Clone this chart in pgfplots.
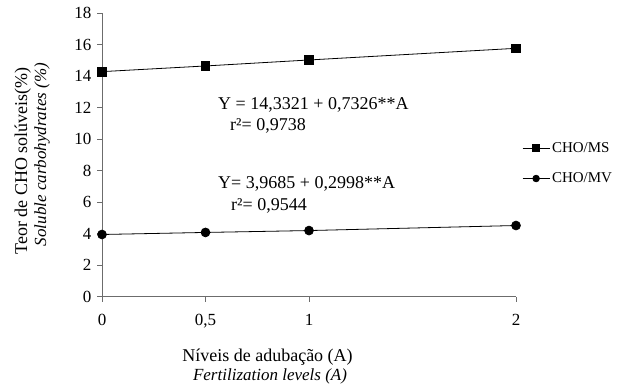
\documentclass[border=0pt]{standalone}
\usepackage{fontspec}
\setmainfont{Liberation Serif}
\usepackage{pgfplots}
\pgfplotsset{compat=1.18}
\begin{document}
\begin{tikzpicture}[x=1bp,y=1bp]
\path[use as bounding box] (0,0) rectangle (617,384);
\begin{axis}[
  at={(102bp,87.3bp)}, anchor=south west,
  scale only axis, width=414bp, height=283.5bp,
  xmin=0, xmax=2, ymin=0, ymax=18,
  axis x line*=bottom, axis y line*=left,
  xtick={0,0.5,1,2}, xticklabels={0,{0,5},1,2},
  ytick={0,2,4,6,8,10,12,14,16,18},
  tick align=outside, major tick length=5bp,
  every tick/.style={gray!85!black, line width=0.8bp},
  axis line style={gray!85!black, line width=0.8bp},
  /pgf/number format/assume math mode=true,
  tick label style={font=\fontsize{17bp}{20bp}\selectfont},
  yticklabel style={xshift=-2bp},
  xticklabel style={yshift=-9bp},
  clip=false,
  legend style={draw=none, fill=none, at={(1.0145,0.4705)}, anchor=west,
    font=\fontsize{15bp}{18bp}\selectfont, inner sep=0pt, row sep=15bp,
    cells={anchor=west}},
  legend image code/.code={
    \draw[mark repeat=2, mark phase=2, mark size=3.3bp]
      plot coordinates {(0bp,0bp) (13.5bp,0bp) (27bp,0bp)};
  },
]
\addplot[black, line width=0.8bp, mark=square*, mark size=4.3bp,
  mark options={solid}] coordinates {(0,14.29) (0.5,14.65) (1,15.03) (2,15.77)};
\addlegendentry{CHO/MS}
\addplot[black, line width=0.8bp, mark=*, mark size=4.4bp,
  mark options={solid}] coordinates {(0,3.95) (0.5,4.08) (1,4.2) (2,4.52)};
\addlegendentry{CHO/MV}
\end{axis}
\begin{scope}[every node/.style={inner sep=0pt}]
\node[anchor=base west, font=\fontsize{18bp}{20bp}\selectfont] at (218,275) {Y = 14,3321 + 0,7326**A};
\node[anchor=base west, font=\fontsize{18bp}{20bp}\selectfont] at (230,254) {r²= 0,9738};
\node[anchor=base west, font=\fontsize{18bp}{20bp}\selectfont] at (218,196) {Y= 3,9685 + 0,2998**A};
\node[anchor=base west, font=\fontsize{18bp}{20bp}\selectfont] at (231,174) {r²= 0,9544};
\node[anchor=base, rotate=90, font=\fontsize{18bp}{20bp}\selectfont] at (27,223) {Teor de CHO solúveis(\%)};
\node[anchor=base, rotate=90, font=\fontsize{17bp}{20bp}\itshape] at (46,229.5) {Soluble carbohydrates (\%)};
\node[anchor=base, font=\fontsize{18bp}{20bp}\selectfont] at (267.5,22.3) {Níveis de adubação (A)};
\node[anchor=base, font=\fontsize{17bp}{20bp}\itshape] at (270,4) {Fertilization levels (A)};
\end{scope}
\end{tikzpicture}
\end{document}
